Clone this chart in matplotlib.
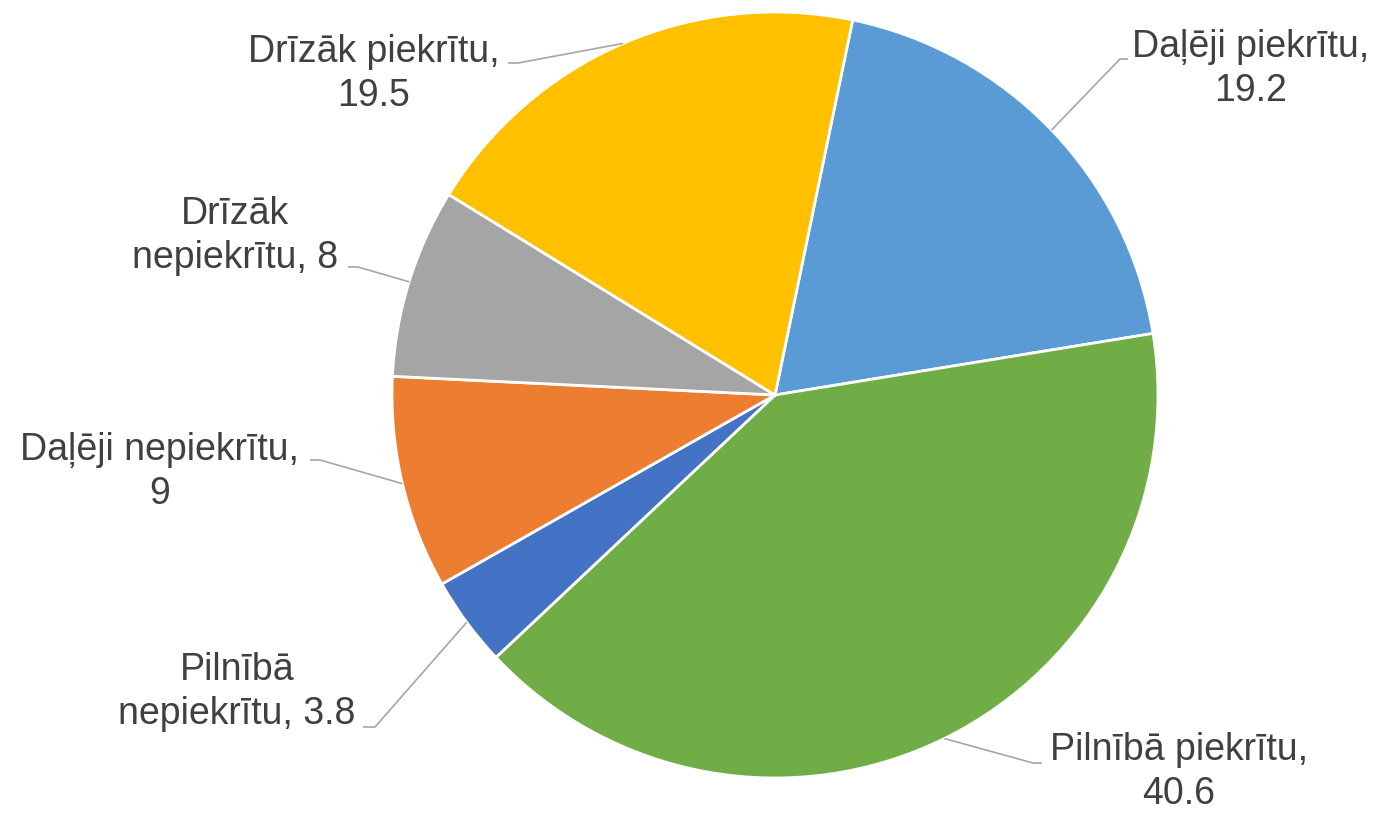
import numpy as np
import matplotlib.pyplot as plt

plt.rcParams['font.family'] = ['Liberation Sans', 'DejaVu Sans']

# data, clockwise from the top
labels = ['Daļēji piekrītu,\n19.2', 'Pilnībā piekrītu,\n40.6', 'Pilnībā\nnepiekrītu, 3.8',
          'Daļēji nepiekrītu,\n9', 'Drīzāk\nnepiekrītu, 8', 'Drīzāk piekrītu,\n19.5']
values = [19.2, 40.6, 3.8, 9, 8, 19.5]
colors = ['#5B9BD5', '#70AD47', '#4472C4', '#ED7D31', '#A5A5A5', '#FFC000']

W, H = 1383, 813
CX, CY, R = 775, 395, 383

def px(x, y):
    # pixel position -> data units (pie radius = 1)
    return (x - CX) / R, (CY - y) / R

# label layout in pixels: text center, leader elbow, leader end
text_pos = [(1251, 69), (1179, 772), (237, 692), (160, 472), (235, 236), (374, 74)]
elbows = [(1120, 59), (1033, 763), (375, 727), (320, 460), (358, 267), (518, 63)]
ends = [(1128, 59), (1042, 763), (363, 727), (310, 460), (348, 267), (508, 63)]

fig = plt.figure(figsize=(W / 100, H / 100), dpi=100)
ax = fig.add_axes([0, 0, 1, 1])

wedges, _ = ax.pie(values, colors=colors, startangle=78.3, counterclock=False, radius=1,
                   wedgeprops=dict(edgecolor='white', linewidth=2))

ax.set_aspect('auto')
ax.set_xlim(px(0, 0)[0], px(W, 0)[0])
ax.set_ylim(px(0, H)[1], px(0, 0)[1])
ax.axis('off')

for w, lab, tp, el, en in zip(wedges, labels, text_pos, elbows, ends):
    mid = np.deg2rad((w.theta1 + w.theta2) / 2)
    x0, y0 = np.cos(mid), np.sin(mid)
    ex, ey = px(*el)
    nx, ny = px(*en)
    ax.plot([x0, ex, nx], [y0, ey, ny], color='#A6A6A6', lw=1.2, solid_capstyle='butt')
    tx, ty = px(*tp)
    ax.text(tx, ty, lab, ha='center', va='center', multialignment='center',
            fontsize=27, color='#404040', linespacing=1.32)

fig.savefig('out.png', dpi=100, facecolor='white')
